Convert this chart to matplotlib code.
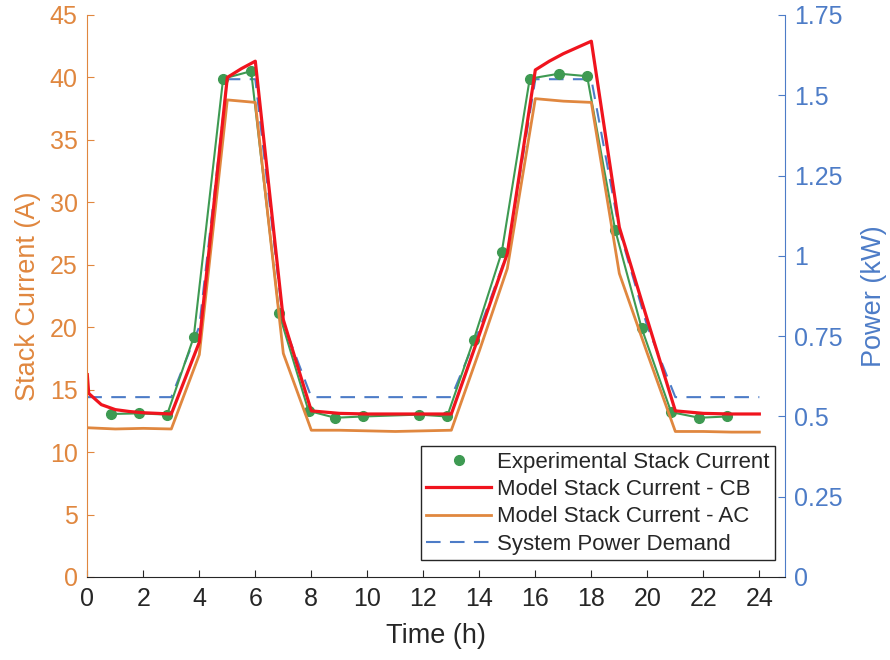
"""Stack current and system power demand over a day."""

import matplotlib
matplotlib.use("Agg")
import matplotlib.pyplot as plt
from matplotlib.lines import Line2D
from matplotlib.ticker import FuncFormatter

plt.rcParams["font.family"] = ["Liberation Sans", "DejaVu Sans"]

ORANGE = "#E0873F"
BLUE = "#4D7CC7"
RED = "#F0141E"
GREEN = "#3E9A52"
DARK = "#262626"

# experimental stack current (A)
exp_time = [0.85, 1.85, 2.85, 3.8, 4.85, 5.85, 6.85, 7.9, 8.85, 9.85, 11.85, 12.85,
            13.8, 14.8, 15.8, 16.85, 17.85, 18.85, 19.8, 20.85, 21.85, 22.85]
exp_current = [13.05, 13.1, 13.0, 19.2, 39.9, 40.5, 21.1, 13.3, 12.75, 12.85, 13.0, 12.85,
               19.0, 26.0, 39.9, 40.3, 40.1, 27.8, 19.9, 13.2, 12.75, 12.85]

# model stack current, CB variant (A)
cb_time = [0, 0.05, 0.5, 1, 1.5, 2, 3, 4, 5, 5.5, 6, 7, 8, 9, 10, 11, 12, 13,
           14, 15, 16, 16.5, 17, 17.5, 18, 19, 20, 21, 22, 23, 24]
cb_current = [16.2, 14.7, 13.8, 13.4, 13.25, 13.15, 13.05, 18.8, 40.0, 40.7, 41.3, 20.6,
              13.3, 13.1, 13.05, 13.05, 13.05, 13.05, 19.4, 25.9, 40.6, 41.3, 41.9, 42.4,
              42.9, 28.0, 20.6, 13.3, 13.1, 13.05, 13.05]

# model stack current, AC variant (A)
hours = list(range(25))
ac_current = [11.95, 11.85, 11.9, 11.85, 17.8, 38.2, 38.0, 17.9, 11.75, 11.75, 11.7, 11.65,
              11.7, 11.75, 18.1, 24.7, 38.3, 38.1, 38.0, 24.3, 17.9, 11.65, 11.65, 11.6, 11.6]

# system power demand (kW)
power_demand = [0.56, 0.56, 0.56, 0.56, 0.78, 1.55, 1.55, 0.79, 0.56, 0.56, 0.56, 0.56,
                0.56, 0.56, 0.77, 1.01, 1.55, 1.55, 1.55, 1.08, 0.78, 0.56, 0.56, 0.56, 0.56]

x_ticks = list(range(0, 25, 2))
current_ticks = list(range(0, 46, 5))
power_ticks = [0, 0.25, 0.5, 0.75, 1, 1.25, 1.5, 1.75]

fig = plt.figure(figsize=(8.9, 6.6), dpi=100)
ax = fig.add_axes([0.0981, 0.1258, 0.7834, 0.8515])
ax2 = ax.twinx()
ax.set_zorder(ax2.get_zorder() + 1)
ax.patch.set_visible(False)

ax2.plot(hours, power_demand, color=BLUE, lw=1.5, dashes=(7, 4.5))
ax.plot(exp_time, exp_current, color=GREEN, lw=1.5, marker="o", ms=7)
ax.plot(hours, ac_current, color=ORANGE, lw=2.0)
ax.plot(cb_time, cb_current, color=RED, lw=2.3)

ax.set_xlim(0, 24.9)
ax.set_ylim(0, 45)
ax2.set_ylim(0, 1.75)
ax.set_xticks(x_ticks)
ax.set_yticks(current_ticks)
ax2.set_yticks(power_ticks)
ax2.yaxis.set_major_formatter(FuncFormatter(lambda v, _: f"{v:g}"))

for a in (ax, ax2):
    a.spines["top"].set_visible(False)
ax.spines["right"].set_visible(False)
ax2.spines["left"].set_visible(False)
ax2.spines["bottom"].set_visible(False)
ax.spines["left"].set_color(ORANGE)
ax.spines["bottom"].set_color(DARK)
ax2.spines["right"].set_color(BLUE)

ax.tick_params(axis="x", direction="in", length=5, colors=DARK, labelsize=18, pad=7)
ax.tick_params(axis="y", direction="in", length=5, colors=ORANGE, labelsize=18, pad=7)
ax2.tick_params(axis="y", direction="in", length=5, colors=BLUE, labelsize=18, pad=7)

ax.set_xlabel("Time (h)", fontsize=19.5, color=DARK, labelpad=9)
ax.set_ylabel("Stack Current (A)", fontsize=19.5, color=ORANGE, labelpad=6)
ax2.set_ylabel("Power (kW)", fontsize=19.5, color=BLUE, labelpad=13)

handles = [
    Line2D([], [], color=GREEN, lw=0, marker="o", ms=7),
    Line2D([], [], color=RED, lw=2.3),
    Line2D([], [], color=ORANGE, lw=2.0),
    Line2D([], [], color=BLUE, lw=1.5, dashes=(7, 4.5)),
]
labels = [
    "Experimental Stack Current",
    "Model Stack Current - CB",
    "Model Stack Current - AC",
    "System Power Demand",
]
leg = ax.legend(handles, labels, loc="lower right", bbox_to_anchor=(0.987, 0.03),
                borderaxespad=0, fontsize=16, handlelength=2.9, handletextpad=0.3,
                labelspacing=0.28, borderpad=0.25, fancybox=False, framealpha=1)
leg.get_frame().set_edgecolor(DARK)
leg.get_frame().set_linewidth(1.0)
for text in leg.get_texts():
    text.set_color(DARK)

fig.savefig("out.png", dpi=100)
